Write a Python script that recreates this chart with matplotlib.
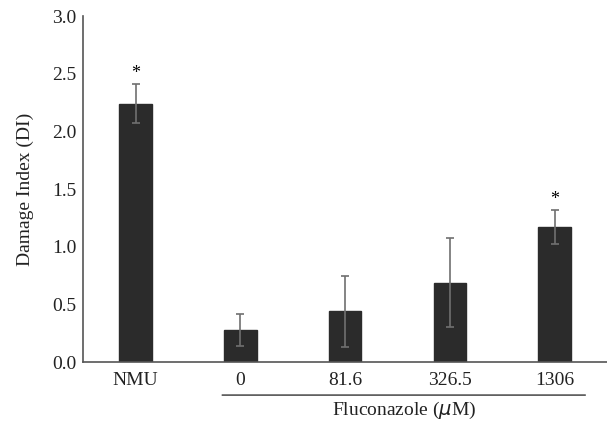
import numpy as np
import matplotlib.pyplot as plt

plt.rcParams['font.family'] = ['Liberation Serif', 'DejaVu Serif']

# ── Data ──────────────────────────────────────────────
labels = ['NMU', '0', '81.6', '326.5', '1306']
di_mean = [2.24, 0.28, 0.44, 0.69, 1.17]
di_err = [0.17, 0.14, 0.31, 0.385, 0.145]
signif = [True, False, False, False, True]

x = np.arange(len(labels))

fig = plt.figure(figsize=(6.07, 4.23), dpi=100)
ax = fig.add_axes([0.137, 0.144, 0.863, 0.818])

ax.bar(x, di_mean, width=0.31, color='#2b2b2b', edgecolor='#2b2b2b', zorder=2)
ax.errorbar(x, di_mean, yerr=di_err, fmt='none', ecolor='#707070',
            elinewidth=1.2, capsize=3, capthick=1.2, zorder=3)

for xi, m, e, s in zip(x, di_mean, di_err, signif):
    if s:
        ax.text(xi, m + e + 0.02, '*', ha='center', va='bottom', fontsize=13)

ax.set_xlim(-0.5, 4.5)
ax.set_ylim(0, 3.0)
ax.set_yticks(np.arange(0, 3.01, 0.5))
ax.set_yticklabels([f'{v:.1f}' for v in np.arange(0, 3.01, 0.5)])
ax.set_xticks(x)
ax.set_xticklabels(labels)
ax.tick_params(axis='both', length=0, labelsize=14, colors='#222222', pad=5)
ax.tick_params(axis='x', pad=7)
ax.set_ylabel('Damage Index (DI)', fontsize=14, color='#222222', labelpad=13)

for side in ['top', 'right']:
    ax.spines[side].set_visible(False)
for side in ['left', 'bottom']:
    ax.spines[side].set_color('#555555')
    ax.spines[side].set_linewidth(1.2)

# grouping line under fluconazole doses
ax.annotate('', xy=(0.80, -0.286), xytext=(4.32, -0.286), xycoords='data',
            annotation_clip=False,
            arrowprops=dict(arrowstyle='-', color='#333333', lw=1.0))
ax.text(2.56, -0.42, 'Fluconazole ($\\mu$M)', ha='center', va='center',
        fontsize=14, color='#222222', clip_on=False)

fig.savefig('out.png', dpi=100)
